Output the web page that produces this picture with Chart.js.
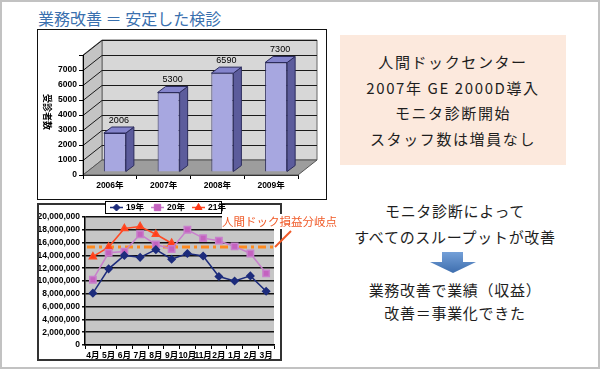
<!DOCTYPE html>
<html>
<head>
<meta charset="utf-8">
<script src="https://cdn.jsdelivr.net/npm/chart.js@4.4.1/dist/chart.umd.min.js"></script>
<style>
  html, body { margin: 0; padding: 0; background: #fff; }
  #slide { position: absolute; left: 0; top: 0; width: 600px; height: 369px; overflow: hidden;
           font-family: "Noto Sans CJK JP", sans-serif; color: #1e1e1e; }
  #frame { position: absolute; left: 0; top: 0; width: 600px; height: 369px; box-sizing: border-box;
           border: 2px solid #c2c2c2; pointer-events: none; }
  .abs { position: absolute; }
  #title { left: 38px; top: 10px; font-size: 16px; line-height: 16px; color: #3a70ae; white-space: nowrap; }
  #barBox { left: 37px; top: 29px; width: 288px; height: 169px; border: 1px solid #111; }
  #lineBox { left: 37px; top: 203px; width: 241px; height: 154px; border: 2px solid #333; }
  #barCanvasWrap { left: 38px; top: 30px; width: 288px; height: 169px; }
  #lineCanvasWrap { left: 39px; top: 199px; width: 241px; height: 160px; }
  #yTitle { left: 42px; top: 94px; writing-mode: vertical-rl; text-orientation: sideways; font-size: 9px; font-weight: bold; line-height: 10px; color: #000; }
  #peach { left: 340px; top: 35px; width: 226px; height: 130px; background: #fce9dd;
           display: flex; flex-direction: column; justify-content: center; align-items: center; }
  #peach div { font-size: 15px; line-height: 25.5px; letter-spacing: 1.6px; white-space: nowrap; }
  .msg { left: 330px; width: 250px; text-align: center; font-size: 15px; line-height: 20px; letter-spacing: 0.7px; white-space: nowrap; }
  #beLabel { left: 222px; top: 214px; font-size: 11.5px; line-height: 15px; color: #f05a28; background: #fff; white-space: nowrap; z-index: 3; }
  svg.overlay { position: absolute; left: 0; top: 0; z-index: 4; }
</style>
</head>
<body>
<div id="slide">
  <div id="title" class="abs">業務改善 ＝ 安定した検診</div>

  <div id="barBox" class="abs"></div>
  <div id="barCanvasWrap" class="abs"><canvas id="barChart" width="288" height="169"></canvas></div>
  <div id="yTitle" class="abs">受診者数</div>

  <div id="lineBox" class="abs"></div>
  <div id="lineCanvasWrap" class="abs" style="z-index:2"><canvas id="lineChart" width="241" height="160"></canvas></div>
  <div id="beLabel" class="abs">人間ドック損益分岐点</div>

  <div id="peach" class="abs">
    <div>人間ドックセンター</div>
    <div>2007年 GE 2000D導入</div>
    <div>モニタ診断開始</div>
    <div>スタッフ数は増員なし</div>
  </div>

  <div class="abs msg" style="top:201px">モニタ診断によって</div>
  <div class="abs msg" style="top:227px">すべてのスループットが改善</div>
  <div class="abs msg" style="top:280px">業務改善で業績（収益）</div>
  <div class="abs msg" style="top:303px">改善＝事業化できた</div>

  <svg class="overlay" width="600" height="369">
    <defs>
      <linearGradient id="blueG" x1="0" y1="0" x2="0" y2="1">
        <stop offset="0" stop-color="#74a0d8"/>
        <stop offset="1" stop-color="#3e6eae"/>
      </linearGradient>
    </defs>
    <line x1="291" y1="231" x2="275" y2="247" stroke="#f05a28" stroke-width="2"/>
    <polygon points="442,252 463,252 463,262 476,262 453,273 430,262 442,262" fill="url(#blueG)"/>
  </svg>
  <div id="frame"></div>
</div>

<script>
// 受診者数 (bar heights as drawn; the label on the first bar reads 2006)
const years = ['2006年', '2007年', '2008年', '2009年'];
const examinees = [2600, 5300, 6590, 7300];
const examineeLabels = ['2006', '5300', '6590', '7300'];

// 月別収益
const months = ['4月', '5月', '6月', '7月', '8月', '9月', '10月', '11月', '2月', '1月', '2月', '3月'];
const seriesNames = ['19年', '20年', '21年'];
const rev19 = [8100000, 11900000, 14000000, 13700000, 14900000, 13400000, 14300000, 13900000, 10700000, 10000000, 10800000, 8400000];
const rev20 = [10200000, 14400000, 14600000, 17300000, 15700000, 15000000, 18000000, 16700000, 16300000, 15400000, 14300000, 11200000];
const rev21 = [13800000, 15300000, 18200000, 18500000, 17300000, 15900000, null, null, null, null, null, null];
const breakEven = 15300000;

const tickFont = { family: '"Liberation Sans", "Noto Sans CJK JP"', size: 8.5, weight: 'bold' };

// 3D look for the bar chart
const wall = { dx: 19, dy: -15 };
const block = { dx: 8, dy: -6 };
const barShift = { x: 5, y: -3 };

function poly(ctx, pts, fill, stroke) {
  ctx.beginPath();
  ctx.moveTo(pts[0][0], pts[0][1]);
  for (let i = 1; i < pts.length; i++) ctx.lineTo(pts[i][0], pts[i][1]);
  ctx.closePath();
  ctx.fillStyle = fill;
  ctx.fill();
  if (stroke) { ctx.strokeStyle = stroke; ctx.lineWidth = 1; ctx.stroke(); }
}

const wall3d = {
  id: 'wall3d',
  beforeDraw(chart) {
    const { ctx, chartArea: a, scales: { y } } = chart;
    const { dx, dy } = wall;
    ctx.save();
    poly(ctx, [[a.left + dx, a.top + dy], [a.right + dx, a.top + dy], [a.right + dx, a.bottom + dy], [a.left + dx, a.bottom + dy]], '#d7d7d7', '#666');
    poly(ctx, [[a.left, a.top], [a.left + dx, a.top + dy], [a.left + dx, a.bottom + dy], [a.left, a.bottom]], '#c4c4c4', '#666');
    poly(ctx, [[a.left, a.bottom], [a.left + dx, a.bottom + dy], [a.right + dx, a.bottom + dy], [a.right, a.bottom]], '#9d9d9d', '#555');
    ctx.strokeStyle = '#1a1a1a';
    ctx.lineWidth = 1;
    y.ticks.forEach(t => {
      if (t.value === 0) return;
      const py = Math.round(y.getPixelForValue(t.value)) + 0.5;
      ctx.beginPath();
      ctx.moveTo(a.left, py);
      ctx.lineTo(a.left + dx, py + dy);
      ctx.lineTo(a.right + dx, py + dy);
      ctx.stroke();
    });
    ctx.restore();
  },
  beforeDatasetsDraw(chart) {
    chart.ctx.save();
    chart.ctx.translate(barShift.x, barShift.y);
  },
  afterDatasetsDraw(chart) {
    const ctx = chart.ctx;
    chart.getDatasetMeta(0).data.forEach((bar, i) => {
      const l = bar.x - bar.width / 2, r = bar.x + bar.width / 2;
      poly(ctx, [[r, bar.y], [r + block.dx, bar.y + block.dy], [r + block.dx, bar.base + block.dy], [r, bar.base]], '#5c5c9c', '#2c2c5c');
      poly(ctx, [[l, bar.y], [l + block.dx, bar.y + block.dy], [r + block.dx, bar.y + block.dy], [r, bar.y]], '#8484cc', '#2c2c5c');
      ctx.fillStyle = '#000';
      ctx.font = '9px "Liberation Sans"';
      ctx.textAlign = 'center';
      ctx.textBaseline = 'bottom';
      ctx.fillText(examineeLabels[i], bar.x + block.dx / 2, bar.y + block.dy - 2);
    });
    ctx.restore();
  }
};

new Chart(document.getElementById('barChart'), {
  type: 'bar',
  data: {
    labels: years,
    datasets: [{
      data: examinees,
      backgroundColor: '#a7a7e0',
      borderColor: '#2c2c5c',
      borderWidth: 1,
      barPercentage: 0.41,
      categoryPercentage: 1
    }]
  },
  options: {
    responsive: false,
    animation: false,
    layout: { padding: { top: 25, right: 28, left: 0, bottom: 0 } },
    plugins: { legend: { display: false }, tooltip: { enabled: false } },
    scales: {
      x: {
        ticks: { font: tickFont, color: '#000', padding: 2 },
        grid: { drawOnChartArea: false, tickLength: 4, color: '#000' },
        border: { color: '#333' },
        afterFit: s => { s.height = 24; }
      },
      y: {
        min: 0, max: 8000,
        ticks: { stepSize: 1000, font: tickFont, color: '#000', padding: 2,
                 callback: v => v === 8000 ? '' : v },
        grid: { drawOnChartArea: false, tickLength: 4, color: '#000' },
        border: { color: '#000' },
        afterFit: s => { s.width = 45; }
      }
    }
  },
  plugins: [wall3d]
});

// line chart helpers
const plotBg = {
  id: 'plotBg',
  beforeDraw(chart) {
    const { ctx, chartArea: a } = chart;
    ctx.save();
    ctx.fillStyle = '#c6c6c6';
    ctx.fillRect(a.left, a.top, a.right - a.left, a.bottom - a.top);
    ctx.restore();
  }
};

const breakEvenLine = {
  id: 'breakEvenLine',
  beforeDatasetsDraw(chart) {
    const { ctx, chartArea: a, scales: { y } } = chart;
    const py = y.getPixelForValue(breakEven);
    ctx.save();
    ctx.strokeStyle = '#ff8a1e';
    ctx.lineWidth = 3;
    ctx.setLineDash([8, 4, 3, 4]);
    ctx.beginPath();
    ctx.moveTo(a.left + 2, py);
    ctx.lineTo(a.right, py);
    ctx.stroke();
    ctx.restore();
  }
};

const boxLegend = {
  id: 'boxLegend',
  afterDraw(chart) {
    const ctx = chart.ctx;
    const left = 66, top = 2, w = 116, h = 12;
    ctx.save();
    ctx.fillStyle = '#fff';
    ctx.fillRect(left, top, w, h);
    ctx.strokeStyle = '#000';
    ctx.lineWidth = 1;
    ctx.strokeRect(left + 0.5, top + 0.5, w, h);
    const cy = top + h / 2 + 0.5;
    chart.data.datasets.forEach((ds, i) => {
      const x0 = left + 5 + i * 41;
      ctx.strokeStyle = ds.borderColor;
      ctx.lineWidth = 1.5;
      ctx.beginPath();
      ctx.moveTo(x0, cy);
      ctx.lineTo(x0 + 13, cy);
      ctx.stroke();
      ctx.fillStyle = ds.backgroundColor;
      ctx.strokeStyle = ds.backgroundColor;
      ctx.lineWidth = 1;
      if (Chart.helpers && Chart.helpers.drawPoint) {
        Chart.helpers.drawPoint(ctx, { pointStyle: ds.pointStyle, radius: ds.pointRadius, rotation: 0, borderWidth: 1 }, x0 + 6.5, cy);
      }
      ctx.fillStyle = '#000';
      ctx.font = 'bold 8.5px "Liberation Sans", "Noto Sans CJK JP"';
      ctx.textAlign = 'left';
      ctx.textBaseline = 'middle';
      ctx.fillText(ds.label, x0 + 16, cy);
    });
    ctx.restore();
  }
};

new Chart(document.getElementById('lineChart'), {
  type: 'line',
  data: {
    labels: months,
    datasets: [
      { label: seriesNames[0], data: rev19, borderColor: '#1d2c7c', backgroundColor: '#1d2c7c',
        pointStyle: 'rectRot', pointRadius: 3.5, borderWidth: 1.5 },
      { label: seriesNames[1], data: rev20, borderColor: '#c880cc', backgroundColor: '#c462bf',
        pointStyle: 'rect', pointRadius: 4.5, borderWidth: 1.5 },
      { label: seriesNames[2], data: rev21, borderColor: '#ff4a24', backgroundColor: '#ff3a1a',
        pointStyle: 'triangle', pointRadius: 4, borderWidth: 1.5 }
    ]
  },
  options: {
    responsive: false,
    animation: false,
    layout: { padding: { top: 18, right: 5, left: 0, bottom: 0 } },
    plugins: { legend: { display: false }, tooltip: { enabled: false } },
    scales: {
      x: {
        offset: true,
        ticks: { font: tickFont, color: '#000', padding: 2, autoSkip: false, maxRotation: 0 },
        grid: { drawOnChartArea: false, offset: true, tickLength: 4, color: '#000' },
        border: { color: '#000', width: 1.5 },
        afterFit: s => { s.height = 14; }
      },
      y: {
        min: 0, max: 20000000,
        ticks: { stepSize: 2000000, font: tickFont, color: '#000', padding: 2, autoSkip: false,
                 callback: v => v.toLocaleString('en-US') },
        grid: { color: '#111', lineWidth: 1.5, tickLength: 3 },
        border: { color: '#000', width: 1.5 },
        afterFit: s => { s.width = 46; }
      }
    }
  },
  plugins: [plotBg, breakEvenLine, boxLegend]
});
</script>
</body>
</html>
